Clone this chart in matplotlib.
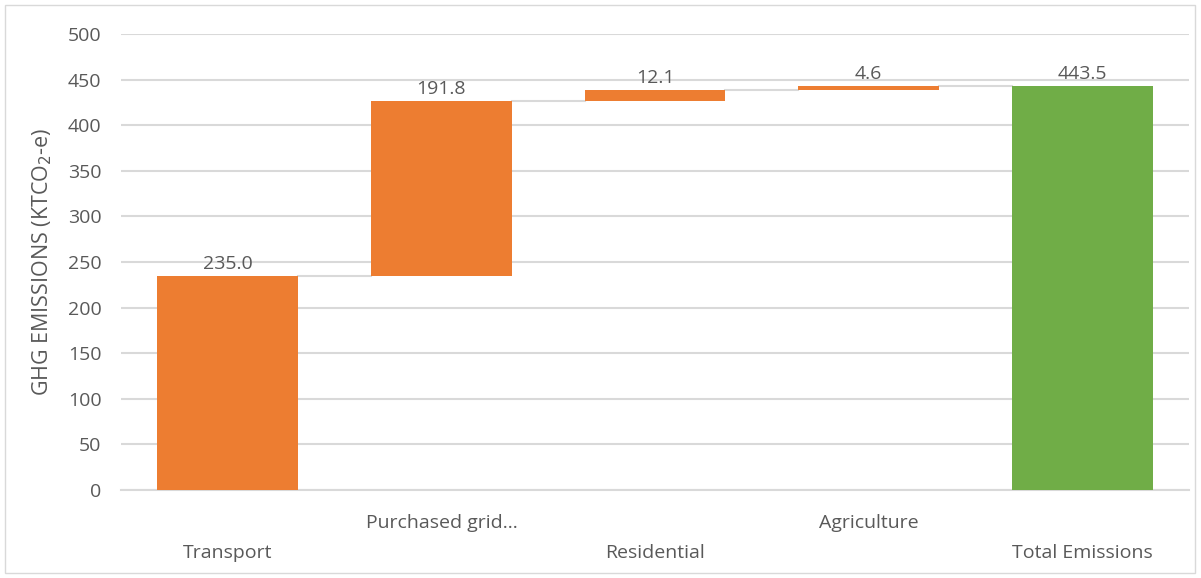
import matplotlib.pyplot as plt
from matplotlib.patches import Rectangle

categories = ['Transport', 'Purchased grid...', 'Residential', 'Agriculture', 'Total Emissions']
values = [235.0, 191.8, 12.1, 4.6, 443.5]
is_total = [False, False, False, False, True]
yticks = [0, 50, 100, 150, 200, 250, 300, 350, 400, 450, 500]

orange = '#ED7D31'
green = '#70AD47'
grid_col = '#D9D9D9'
text_col = '#595959'

plt.rcParams['font.family'] = ['Open Sans', 'DejaVu Sans']

fig = plt.figure(figsize=(12.01, 5.78), dpi=100)
ax = fig.add_axes([121 / 1201, 1 - 490 / 578, (1189 - 121) / 1201, (490 - 34) / 578])

# waterfall bottoms
bottoms = []
running = 0
for v, t in zip(values, is_total):
    if t:
        bottoms.append(0)
    else:
        bottoms.append(running)
        running += v

x = list(range(len(categories)))
width = 0.66
colors = [green if t else orange for t in is_total]
ax.bar(x, values, width=width, bottom=bottoms, color=colors, zorder=3)

# connectors
for i in range(len(values) - 1):
    top = bottoms[i] + values[i]
    ax.plot([i + width / 2, i + 1 - width / 2], [top, top], color=grid_col, lw=1.5, zorder=2)

# data labels
for i, v in enumerate(values):
    ax.text(i, bottoms[i] + v + 3, f'{v:.1f}', ha='center', va='bottom',
            fontsize=14, color=text_col)

ax.set_xlim(-0.5, len(categories) - 0.5)
ax.set_ylim(0, 500)
ax.set_yticks(yticks)
ax.yaxis.grid(True, color=grid_col, lw=1.5, zorder=0)
ax.tick_params(axis='y', length=0, labelsize=14, labelcolor=text_col, pad=14)
ax.set_xticks(x)
ax.set_xticklabels([])
ax.tick_params(axis='x', length=0)
for s in ['top', 'right', 'left']:
    ax.spines[s].set_visible(False)
ax.spines['bottom'].set_color(grid_col)
ax.spines['bottom'].set_linewidth(1.5)

# staggered category labels
for i, c in enumerate(categories):
    y = -0.072 if i % 2 else -0.138
    ax.text(i, y, c, transform=ax.get_xaxis_transform(), ha='center', va='center',
            fontsize=14, color=text_col)

ax.set_ylabel('GHG EMISSIONS (KTCO$_2$-e)', fontsize=15.5, color=text_col, labelpad=10)

fig.patches.append(Rectangle((5 / 1201, 5 / 578), 1190 / 1201, 568 / 578, transform=fig.transFigure,
                             fill=False, edgecolor=grid_col, lw=1))

fig.savefig('out.png', dpi=100)
